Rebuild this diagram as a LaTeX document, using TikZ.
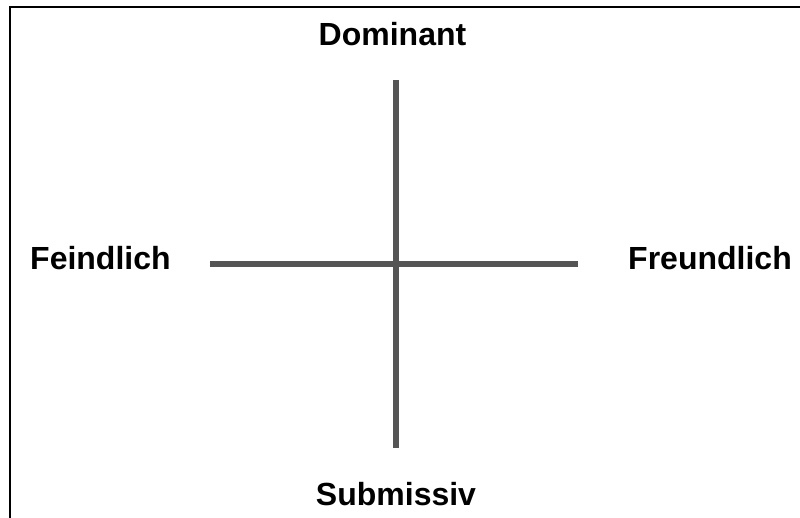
\documentclass[tikz,border=0pt]{standalone}
\usepackage{fontspec}
\setmainfont{Liberation Sans}
\definecolor{axisgray}{HTML}{555555}
\begin{document}
\begin{tikzpicture}[x=1pt,y=-1pt,
  lbl/.style={inner sep=0pt,font=\fontsize{32}{38}\selectfont\bfseries},
  axisline/.style={draw=axisgray,line width=6pt}]
\useasboundingbox (0,0) rectangle (800,517);
\draw[line width=2pt,black] (9.5,540) -- (9.5,7) -- (820,7);
\coordinate (top) at (395.5,80);
\coordinate (bot) at (395.5,448);
\coordinate (lft) at (210,264);
\coordinate (rgt) at (578,264);
\draw[axisline] (top) -- (bot);
\draw[axisline] (lft) -- (rgt);
\node[lbl,anchor=base] (dom) at (392.5,45) {Dominant};
\node[lbl,anchor=base west] (fei) at (30,269) {Feindlich};
\node[lbl,anchor=base east] (fre) at (792,269) {Freundlich};
\node[lbl,anchor=base] (sub) at (396,505) {Submissiv};
\end{tikzpicture}
\end{document}
